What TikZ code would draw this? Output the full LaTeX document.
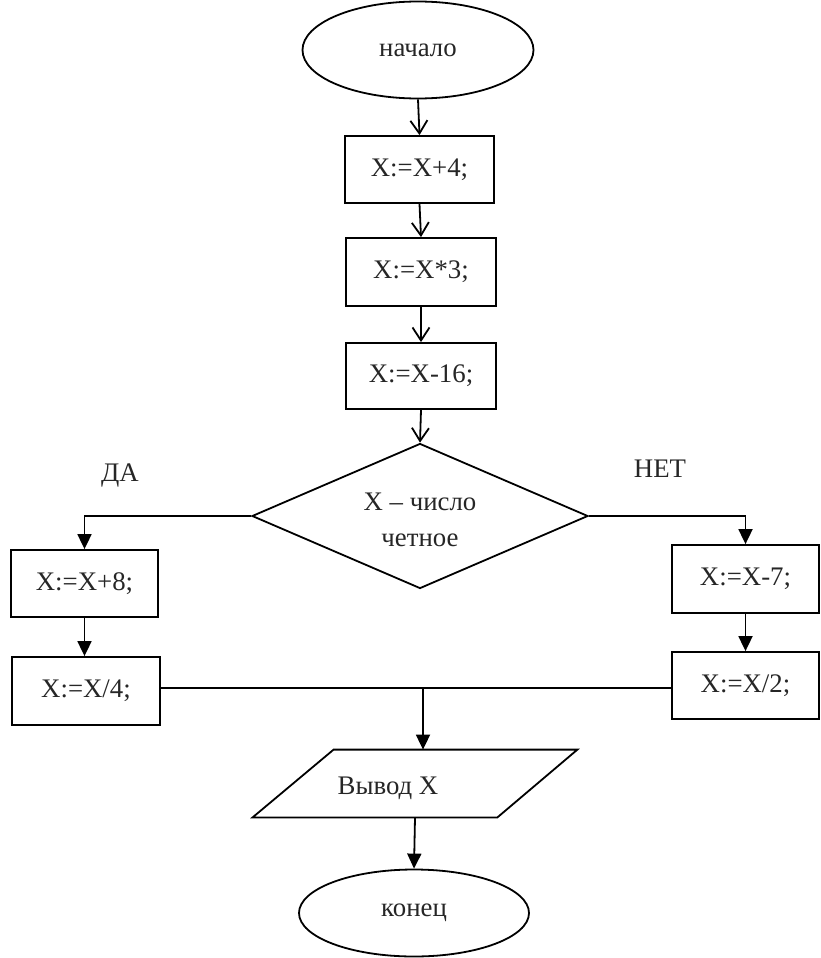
\documentclass[tikz,border=0pt]{standalone}
\usepackage{fontspec}
\setmainfont{Liberation Serif}
\usetikzlibrary{shapes.geometric,arrows.meta,calc}
\begin{document}
\begin{tikzpicture}[x=0.5pt,y=-0.5pt,
  every node/.style={font=\fontsize{13.4}{18}\selectfont, text=black!85},
  box/.style={draw, line width=0.9pt, minimum width=74.5pt, minimum height=33.5pt, inner sep=0pt},
  term/.style={draw, ellipse, line width=0.9pt, inner sep=0pt},
  openarr/.style={-{Straight Barb[length=6.5pt,width=8.5pt]}, line width=0.9pt},
  fillarr/.style={-{Triangle[length=7.5pt,width=7pt]}, line width=0.9pt},
  ln/.style={line width=0.9pt}]
\fill[white] (0,0) rectangle (820,958);
\useasboundingbox (0,0) rectangle (820,958);

\node[term, minimum width=115.5pt, minimum height=48.5pt] (start) at (418,50) {начало};
\node[box] (r1) at (419.5,169.5) {X:=X+4;};
\node[box, minimum width=75pt, minimum height=34pt] (r2) at (421,272) {X:=X*3;};
\node[box, minimum width=75pt, minimum height=33pt] (r3) at (421,376) {X:=X-16;};
\node[diamond, draw, line width=0.9pt, minimum width=168pt, minimum height=72.5pt, inner sep=0pt] (dec) at (420,516) {};
\node[align=center] (dectxt) at ($(dec)+(0,4)$) {X – число\\четное};

\node (yes) at (120,476) {ДА};
\node (no) at (660,469) {НЕТ};

\node[box, minimum width=73.5pt] (a) at (84.5,583.5) {X:=X+8;};
\node[box, minimum width=74pt, minimum height=34pt] (b) at (86,691) {X:=X/4;};
\node[box, minimum width=73.5pt, minimum height=34pt] (c) at (745.5,579) {X:=X-7;};
\node[box, minimum width=73.5pt] (d) at (745.5,685.5) {X:=X/2;};

\node[minimum width=162pt, minimum height=33.5pt, inner sep=0pt] (out) at (415,783.5) {};
\draw[ln] (out.south west) -- ($(out.north west)+(81,0)$) -- (out.north east) -- ($(out.south east)+(-80,0)$) -- cycle;
\node (outtxt) at (388,788) {Вывод X};

\node[term, minimum width=115pt, minimum height=43.5pt] (end) at (414,913) {конец};

\draw[openarr] (start.south) -- (r1.north);
\draw[openarr] (r1.south) -- (r2.north);
\draw[openarr] (r2.south) -- (r3.north);
\draw[openarr] (r3.south) -- (dec.north);

\draw[fillarr] (dec.west) -| (a.north);
\draw[fillarr] (dec.east) -| (c.north);
\draw[fillarr] (a.south) -- (a.south |- b.north);
\draw[fillarr] (c.south) -- (c.south |- d.north);

\coordinate (j) at (423,688);
\draw[ln] (b.east |- j) -- (d.west |- j);
\draw[fillarr] (j) -- (j |- out.north);
\draw[fillarr] (out.south) -- (end.north);
\end{tikzpicture}
\end{document}
